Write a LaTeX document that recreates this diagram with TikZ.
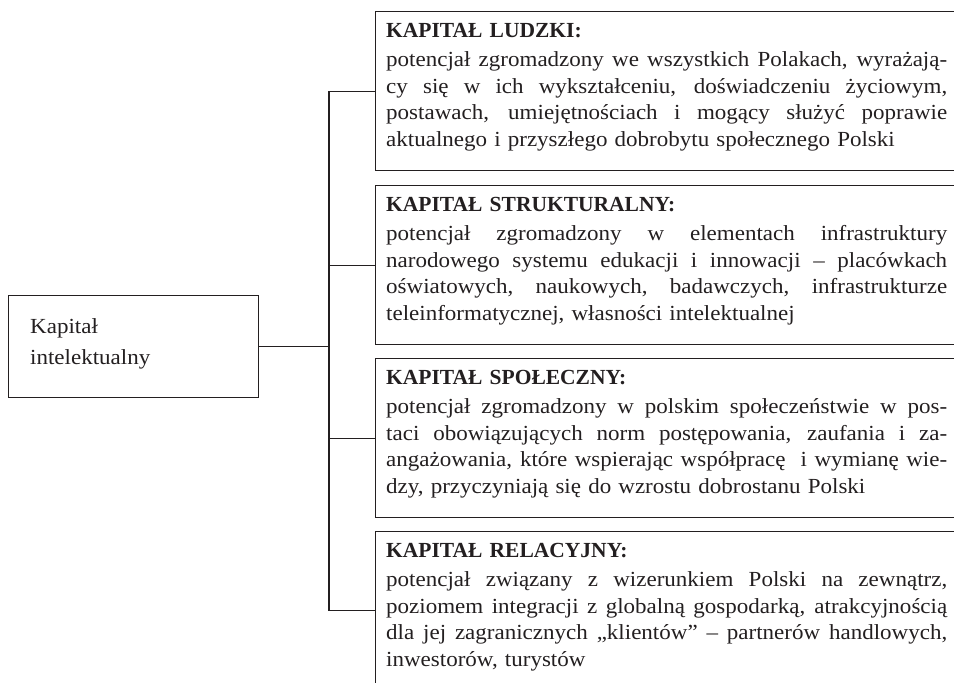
\documentclass[tikz,border=0pt]{standalone}
\usepackage{fontspec}
\setmainfont{Liberation Serif}
\newfontfamily\bodyfont{Liberation Serif}[FakeStretch=1.07]
\definecolor{ink}{HTML}{231F20}
\newcommand\jline[1]{{\spaceskip=0pt\xspaceskip=0pt\makebox[561pt][s]{#1}}}
\newcommand\headtxt[1]{{\rmfamily\bfseries #1}}
\begin{document}
\begin{tikzpicture}[x=1pt,y=-1pt,
  every node/.style={text=ink},
  boxstyle/.style={draw=ink, line width=1.4pt, minimum width=620pt, inner sep=0pt, anchor=north west},
  txtstyle/.style={inner sep=0pt, anchor=base west, text width=561pt, align=left, font=\bodyfont\fontsize{21.5}{26.8}\selectfont},
  link/.style={draw=ink, line width=1.4pt}]
\useasboundingbox (0,0) rectangle (954,683);
\clip (0,0) rectangle (954,683);
\fill[white] (0,0) rectangle (954,683);
% left box
\node[boxstyle, minimum width=250pt, minimum height=102pt] (lb) at (8,295) {};
\node[inner sep=0pt, anchor=base west, text width=200pt, align=left, font=\bodyfont\fontsize{21.5}{31}\selectfont] (lt) at (30,333) {Kapitał\\intelektualny};
% right boxes
\node[boxstyle, minimum height=159pt] (b1) at (375,11) {};
\node[boxstyle, minimum height=159pt] (b2) at (375,185) {};
\node[boxstyle, minimum height=159pt] (b3) at (375,358) {};
\node[boxstyle, minimum height=158pt] (b4) at (375,531) {};
\node[txtstyle] (t1) at (386,37) {\headtxt{KAPITAŁ LUDZKI:}\\[2.5pt]
\jline{potencjał zgromadzony we wszystkich Polakach, wyrażają-}\\
\jline{cy się w ich wykształceniu, doświadczeniu życiowym,}\\
\jline{postawach, umiejętnościach i mogący służyć poprawie}\\
aktualnego i przyszłego dobrobytu społecznego Polski};
\node[txtstyle] (t2) at (386,211) {\headtxt{KAPITAŁ STRUKTURALNY:}\\[2.5pt]
\jline{potencjał zgromadzony w elementach infrastruktury}\\
\jline{narodowego systemu edukacji i innowacji – placówkach}\\
\jline{oświatowych, naukowych, badawczych, infrastrukturze}\\
teleinformatycznej, własności intelektualnej};
\node[txtstyle] (t3) at (386,384) {\headtxt{KAPITAŁ SPOŁECZNY:}\\[2.5pt]
\jline{potencjał zgromadzony w polskim społeczeństwie w pos-}\\
\jline{taci obowiązujących norm postępowania, zaufania i za-}\\
\jline{angażowania, które wspierając współpracę\ \ i wymianę wie-}\\
dzy, przyczyniają się do wzrostu dobrostanu Polski};
\node[txtstyle] (t4) at (386,557) {\headtxt{KAPITAŁ RELACYJNY:}\\[2.5pt]
\jline{potencjał związany z wizerunkiem Polski na zewnątrz,}\\
\jline{poziomem integracji z globalną gospodarką, atrakcyjnością}\\
\jline{dla jej zagranicznych „klientów” – partnerów handlowych,}\\
inwestorów, turystów};
% connectors
\coordinate (j) at (329,0);
\draw[link] (lb.east) -- (lb.east -| j);
\draw[link, line cap=rect] (b1.west -| j) -- (b4.west -| j);
\draw[link] (b1.west -| j) -- (b1.west);
\draw[link] (b2.west -| j) -- (b2.west);
\draw[link] (b3.west -| j) -- (b3.west);
\draw[link] (b4.west -| j) -- (b4.west);
\end{tikzpicture}
\end{document}
